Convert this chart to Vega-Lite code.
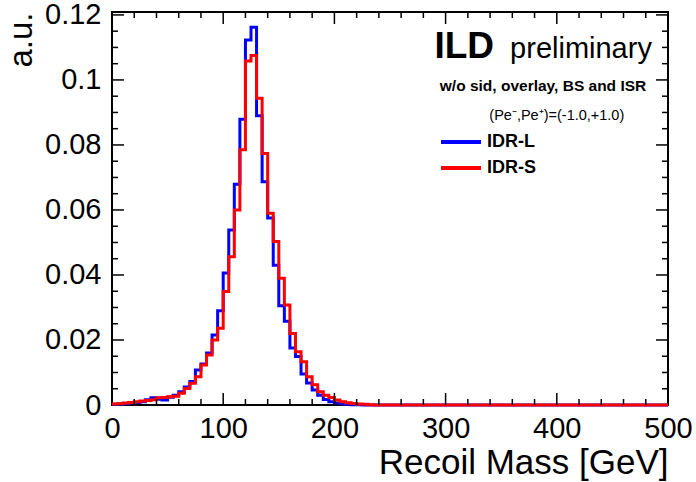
{
  "$schema": "https://vega.github.io/schema/vega-lite/v6.json",
  "width": 556,
  "height": 393,
  "autosize": {"type": "none"},
  "padding": {"left": 112, "top": 12, "right": 28, "bottom": 77},
  "background": "white",
  "config": {
    "view": {"stroke": "black", "strokeWidth": 2},
    "font": "Liberation Sans",
    "axis": {"grid": false, "domain": false, "ticks": false, "tickSize": 0, "labelColor": "black", "titleColor": "black", "labelFont": "Liberation Sans", "titleFont": "Liberation Sans", "titleFontWeight": "normal"}
  },
  "resolve": {"axis": {"x": "independent", "y": "independent"}},
  "datasets": {
    "h": [
      {"m": 0, "IDR-L": 0.0002, "IDR-S": 0.0003},
      {"m": 5, "IDR-L": 0.0003, "IDR-S": 0.0004},
      {"m": 10, "IDR-L": 0.0004, "IDR-S": 0.0006},
      {"m": 15, "IDR-L": 0.0006, "IDR-S": 0.0008},
      {"m": 20, "IDR-L": 0.0008, "IDR-S": 0.0010},
      {"m": 25, "IDR-L": 0.0010, "IDR-S": 0.0012},
      {"m": 30, "IDR-L": 0.0016, "IDR-S": 0.0014},
      {"m": 35, "IDR-L": 0.0022, "IDR-S": 0.0016},
      {"m": 40, "IDR-L": 0.0018, "IDR-S": 0.0022},
      {"m": 45, "IDR-L": 0.0015, "IDR-S": 0.0023},
      {"m": 50, "IDR-L": 0.0024, "IDR-S": 0.0025},
      {"m": 55, "IDR-L": 0.0030, "IDR-S": 0.0027},
      {"m": 60, "IDR-L": 0.0041, "IDR-S": 0.0036},
      {"m": 65, "IDR-L": 0.0055, "IDR-S": 0.0051},
      {"m": 70, "IDR-L": 0.0072, "IDR-S": 0.0067},
      {"m": 75, "IDR-L": 0.0108, "IDR-S": 0.0087},
      {"m": 80, "IDR-L": 0.0126, "IDR-S": 0.0123},
      {"m": 85, "IDR-L": 0.0160, "IDR-S": 0.0154},
      {"m": 90, "IDR-L": 0.0215, "IDR-S": 0.0200},
      {"m": 95, "IDR-L": 0.0290, "IDR-S": 0.0236},
      {"m": 100, "IDR-L": 0.0406, "IDR-S": 0.0349},
      {"m": 105, "IDR-L": 0.0538, "IDR-S": 0.0456},
      {"m": 110, "IDR-L": 0.0679, "IDR-S": 0.0600},
      {"m": 115, "IDR-L": 0.0879, "IDR-S": 0.0785},
      {"m": 120, "IDR-L": 0.1123, "IDR-S": 0.1058},
      {"m": 125, "IDR-L": 0.1162, "IDR-S": 0.1075},
      {"m": 130, "IDR-L": 0.0890, "IDR-S": 0.0944},
      {"m": 135, "IDR-L": 0.0687, "IDR-S": 0.0774},
      {"m": 140, "IDR-L": 0.0575, "IDR-S": 0.0590},
      {"m": 145, "IDR-L": 0.0430, "IDR-S": 0.0503},
      {"m": 150, "IDR-L": 0.0305, "IDR-S": 0.0390},
      {"m": 155, "IDR-L": 0.0258, "IDR-S": 0.0308},
      {"m": 160, "IDR-L": 0.0175, "IDR-S": 0.0220},
      {"m": 165, "IDR-L": 0.0149, "IDR-S": 0.0164},
      {"m": 170, "IDR-L": 0.0095, "IDR-S": 0.0133},
      {"m": 175, "IDR-L": 0.0068, "IDR-S": 0.0087},
      {"m": 180, "IDR-L": 0.0046, "IDR-S": 0.0062},
      {"m": 185, "IDR-L": 0.0030, "IDR-S": 0.0041},
      {"m": 190, "IDR-L": 0.0017, "IDR-S": 0.0030},
      {"m": 195, "IDR-L": 0.0010, "IDR-S": 0.0023},
      {"m": 200, "IDR-L": 0.0006, "IDR-S": 0.0015},
      {"m": 205, "IDR-L": 0.0004, "IDR-S": 0.0010},
      {"m": 210, "IDR-L": 0.0002, "IDR-S": 0.0007},
      {"m": 215, "IDR-L": 0.0001, "IDR-S": 0.0005},
      {"m": 220, "IDR-L": 0.0001, "IDR-S": 0.0003},
      {"m": 225, "IDR-L": 0, "IDR-S": 0.0002},
      {"m": 230, "IDR-L": 0, "IDR-S": 0.0001},
      {"m": 235, "IDR-L": 0, "IDR-S": 0},
      {"m": 300, "IDR-L": 0, "IDR-S": 0},
      {"m": 400, "IDR-L": 0, "IDR-S": 0},
      {"m": 500, "IDR-L": 0, "IDR-S": 0}
    ],
    "xmaj": [{"t": 100}, {"t": 200}, {"t": 300}, {"t": 400}],
    "xmin": [{"t": 20}, {"t": 40}, {"t": 60}, {"t": 80}, {"t": 120}, {"t": 140}, {"t": 160}, {"t": 180}, {"t": 220}, {"t": 240}, {"t": 260}, {"t": 280}, {"t": 320}, {"t": 340}, {"t": 360}, {"t": 380}, {"t": 420}, {"t": 440}, {"t": 460}, {"t": 480}],
    "ymaj": [{"t": 0.02}, {"t": 0.04}, {"t": 0.06}, {"t": 0.08}, {"t": 0.1}, {"t": 0.12}],
    "ymin": [{"t": 0.005}, {"t": 0.01}, {"t": 0.015}, {"t": 0.025}, {"t": 0.03}, {"t": 0.035}, {"t": 0.045}, {"t": 0.05}, {"t": 0.055}, {"t": 0.065}, {"t": 0.07}, {"t": 0.075}, {"t": 0.085}, {"t": 0.09}, {"t": 0.095}, {"t": 0.105}, {"t": 0.11}, {"t": 0.115}]
  },
  "layer": [
    {
      "data": {"name": "h"},
      "transform": [{"fold": ["IDR-L", "IDR-S"], "as": ["det", "v"]}],
      "mark": {"type": "line", "interpolate": "step-after", "strokeWidth": 3},
      "encoding": {
        "x": {"field": "m", "type": "quantitative", "scale": {"domain": [0, 500], "nice": false, "zero": false},
          "axis": {"orient": "bottom", "values": [0, 100, 200, 300, 400, 500], "format": "d", "labelPadding": 9, "labelFontSize": 29, "labelFlush": false, "labelOverlap": false, "title": "Recoil Mass [GeV]", "titleFontSize": 35, "titleAnchor": "end", "titlePadding": 2}},
        "y": {"field": "v", "type": "quantitative", "scale": {"domain": [0, 0.1209], "nice": false},
          "axis": {"orient": "left", "values": [0, 0.02, 0.04, 0.06, 0.08, 0.1, 0.12], "format": "~g", "labelPadding": 11, "labelFontSize": 29, "labelFlush": false, "labelOverlap": false, "title": "a.u.", "titleFontSize": 33, "titleAnchor": "end", "titlePadding": 6}},
        "color": {"field": "det", "type": "nominal", "scale": {"domain": ["IDR-L", "IDR-S"], "range": ["#0000ff", "#ff0000"]},
          "legend": {"orient": "none", "legendX": 337, "legendY": 118, "title": null, "symbolType": "M-2,0H2", "symbolSize": 400, "symbolStrokeWidth": 4, "labelFontSize": 18, "labelFontWeight": "bold", "labelColor": "black", "labelOffset": 14, "rowPadding": 5, "padding": 0}}
      }
    },
    {
      "data": {"name": "xmaj"},
      "mark": {"type": "rule", "color": "black", "strokeWidth": 1.5},
      "encoding": {"x": {"field": "t", "type": "quantitative", "axis": null}, "y": {"datum": 0, "axis": null}, "y2": {"datum": 0.0037}}
    },
    {
      "data": {"name": "xmaj"},
      "mark": {"type": "rule", "color": "black", "strokeWidth": 1.5},
      "encoding": {"x": {"field": "t", "type": "quantitative", "axis": null}, "y": {"datum": 0.1209, "axis": null}, "y2": {"datum": 0.1172}}
    },
    {
      "data": {"name": "xmin"},
      "mark": {"type": "rule", "color": "black", "strokeWidth": 1.5},
      "encoding": {"x": {"field": "t", "type": "quantitative", "axis": null}, "y": {"datum": 0, "axis": null}, "y2": {"datum": 0.00185}}
    },
    {
      "data": {"name": "xmin"},
      "mark": {"type": "rule", "color": "black", "strokeWidth": 1.5},
      "encoding": {"x": {"field": "t", "type": "quantitative", "axis": null}, "y": {"datum": 0.1209, "axis": null}, "y2": {"datum": 0.11905}}
    },
    {
      "data": {"name": "ymaj"},
      "mark": {"type": "rule", "color": "black", "strokeWidth": 1.5},
      "encoding": {"y": {"field": "t", "type": "quantitative", "axis": null}, "x": {"datum": 0, "axis": null}, "x2": {"datum": 10.8}}
    },
    {
      "data": {"name": "ymaj"},
      "mark": {"type": "rule", "color": "black", "strokeWidth": 1.5},
      "encoding": {"y": {"field": "t", "type": "quantitative", "axis": null}, "x": {"datum": 500, "axis": null}, "x2": {"datum": 489.2}}
    },
    {
      "data": {"name": "ymin"},
      "mark": {"type": "rule", "color": "black", "strokeWidth": 1.5},
      "encoding": {"y": {"field": "t", "type": "quantitative", "axis": null}, "x": {"datum": 0, "axis": null}, "x2": {"datum": 5.4}}
    },
    {
      "data": {"name": "ymin"},
      "mark": {"type": "rule", "color": "black", "strokeWidth": 1.5},
      "encoding": {"y": {"field": "t", "type": "quantitative", "axis": null}, "x": {"datum": 500, "axis": null}, "x2": {"datum": 494.6}}
    },
    {
      "data": {"values": [{}]},
      "mark": {"type": "text", "text": "ILD", "font": "Liberation Sans", "fontWeight": "bold", "fontSize": 37, "align": "left", "baseline": "alphabetic", "color": "black"},
      "encoding": {"x": {"datum": 290, "axis": null}, "y": {"datum": 0.1068, "axis": null}}
    },
    {
      "data": {"values": [{}]},
      "mark": {"type": "text", "text": "preliminary", "font": "Liberation Sans", "fontSize": 29, "align": "left", "baseline": "alphabetic", "color": "black"},
      "encoding": {"x": {"datum": 358, "axis": null}, "y": {"datum": 0.1068, "axis": null}}
    },
    {
      "data": {"values": [{}]},
      "mark": {"type": "text", "text": "w/o sid, overlay, BS and ISR", "font": "Liberation Sans", "fontWeight": "bold", "fontSize": 15.5, "align": "center", "baseline": "alphabetic", "color": "black"},
      "encoding": {"x": {"datum": 387.6, "axis": null}, "y": {"datum": 0.0966, "axis": null}}
    },
    {
      "data": {"values": [{}]},
      "mark": {"type": "text", "text": "(Pe⁻,Pe⁺)=(-1.0,+1.0)", "font": "Liberation Sans", "fontSize": 14.5, "align": "center", "baseline": "alphabetic", "color": "black"},
      "encoding": {"x": {"datum": 400, "axis": null}, "y": {"datum": 0.0877, "axis": null}}
    }
  ]
}
